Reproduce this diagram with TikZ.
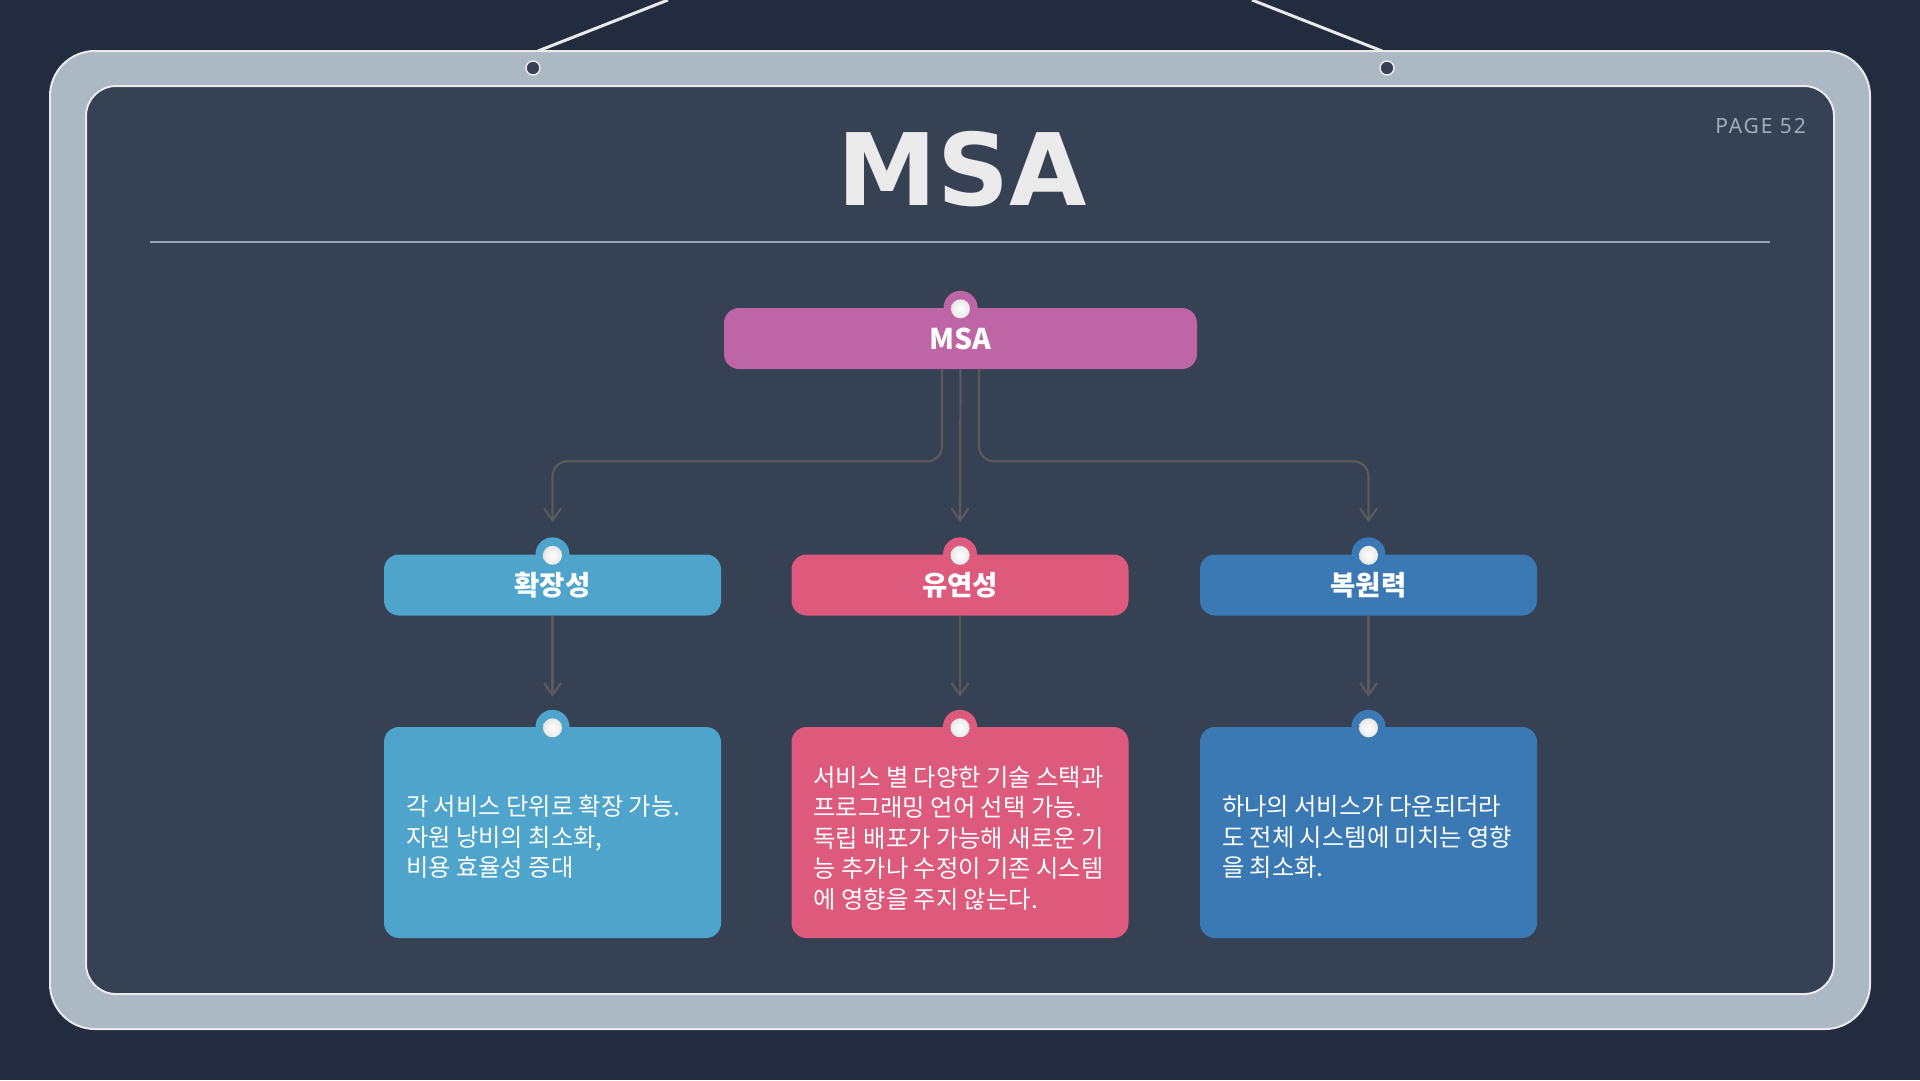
\documentclass[tikz,border=0pt]{standalone}
\usepackage{fontspec}
\usetikzlibrary{calc,arrows.meta}
\setmainfont{Noto Sans CJK KR}
\newfontfamily\headfont{DejaVu Sans}
\newfontfamily\pagefont{Noto Sans}[LetterSpace=9]

\definecolor{bgdark}{HTML}{232B3E}
\definecolor{panel}{HTML}{374154}
\definecolor{framec}{HTML}{ACB9C5}
\definecolor{edgec}{HTML}{E9EAEC}
\definecolor{rulec}{HTML}{9AA5B3}
\definecolor{pagec}{HTML}{A2ACB8}
\definecolor{titlec}{HTML}{EBEBEB}
\definecolor{connc}{HTML}{5A5A5A}
\definecolor{cmsa}{HTML}{BD65A5}
\definecolor{cscale}{HTML}{4EA4CA}
\definecolor{cflex}{HTML}{DD5A7D}
\definecolor{cresil}{HTML}{3A79B3}

\tikzset{
  card/.style={rectangle, rounded corners=15pt, inner sep=0pt, text=white},
  headcard/.style={card, minimum width=337pt, minimum height=61pt,
    font=\fontsize{27.5}{32}\selectfont\bfseries},
  desccard/.style={card, minimum width=337pt, minimum height=211pt},
  desctext/.style={anchor=west, inner sep=0pt, align=left, text=white,
    font=\fontsize{24.3}{30.5}\selectfont},
  conn/.style={draw=connc, line width=2.2pt, rounded corners=15pt,
    -{Straight Barb[length=12pt,width=17pt,line width=2.2pt]}},
  cord/.style={draw=edgec, line width=3pt},
}

% a round tab with a white pin on top of a card
\newcommand{\pintab}[2]{%
  \fill[#2] (#1.north) circle[radius=17pt];
  \shade[inner color=white, outer color=black!9] ($(#1.north)+(0,1)$) circle[radius=9.5pt];
}

\begin{document}
\begin{tikzpicture}[x=1pt,y=-1pt]
\useasboundingbox (0,0) rectangle (1920,1080);
\fill[bgdark] (0,0) rectangle (1920,1080);

% hanging cords
\draw[cord] (538,51) -- (668,0);
\draw[cord] (1382,51) -- (1252,0);

% board frame and panel
\filldraw[fill=framec, draw=edgec, line width=2pt, rounded corners=45pt] (50,51) rectangle (1870,1029);
\filldraw[fill=panel, draw=edgec, line width=2pt, rounded corners=30pt] (86,86) rectangle (1834,994);
\filldraw[fill=panel, draw=edgec, line width=1.5pt] (533,68) circle[radius=7pt];
\filldraw[fill=panel, draw=edgec, line width=1.5pt] (1387,68) circle[radius=7pt];

% heading
\node[inner sep=0pt, text=pagec, anchor=east, font=\pagefont\fontsize{21}{25}\selectfont] (page) at (1806,126) {PAGE 52};
\node[inner sep=0pt, text=titlec, font=\headfont\bfseries\fontsize{100}{110}\selectfont] (title) at (962,169.5) {MSA};
\draw[rulec, line width=2pt] (150,242) -- (1770,242);

% cards
\node[card, fill=cmsa, minimum width=473pt, minimum height=61pt,
  font=\fontsize{28.5}{32}\selectfont\bfseries] (msa) at (960.5,338.5) {MSA};

\node[headcard, fill=cscale] (t1) at (552.5,585) {확장성};
\node[headcard, fill=cflex]  (t2) at (960,585)   {유연성};
\node[headcard, fill=cresil] (t3) at (1368.5,585) {복원력};

\node[desccard, fill=cscale] (d1) at (552.5,832.5) {};
\node[desccard, fill=cflex]  (d2) at (960,832.5)   {};
\node[desccard, fill=cresil] (d3) at (1368.5,832.5) {};

\node[desctext] (x1) at ($(d1.west)+(22,4.5)$) {각 서비스 단위로 확장 가능.\\자원 낭비의 최소화,\\비용 효율성 증대};
\node[desctext] (x2) at ($(d2.west)+(22,5.5)$) {서비스 별 다양한 기술 스택과\\프로그래밍 언어 선택 가능.\\독립 배포가 가능해 새로운 기\\능 추가나 수정이 기존 시스템\\에 영향을 주지 않는다.};
\node[desctext] (x3) at ($(d3.west)+(22,4.5)$) {하나의 서비스가 다운되더라\\도 전체 시스템에 미치는 영향\\을 최소화.};

\pintab{msa}{cmsa}
\pintab{t1}{cscale}
\pintab{t2}{cflex}
\pintab{t3}{cresil}
\pintab{d1}{cscale}
\pintab{d2}{cflex}
\pintab{d3}{cresil}

% connectors
\draw[conn] ($(msa.south)+(-18.5,0)$) |- ($(t1.north)+(0,-93)$) -- ($(t1.north)+(0,-32)$);
\draw[conn] (msa.south) -- ($(t2.north)+(0,-32)$);
\draw[conn] ($(msa.south)+(18.5,0)$) |- ($(t3.north)+(0,-93)$) -- ($(t3.north)+(0,-32)$);
\draw[conn] (t1.south) -- ($(d1.north)+(0,-30)$);
\draw[conn] (t2.south) -- ($(d2.north)+(0,-30)$);
\draw[conn] (t3.south) -- ($(d3.north)+(0,-30)$);
\end{tikzpicture}
\end{document}
